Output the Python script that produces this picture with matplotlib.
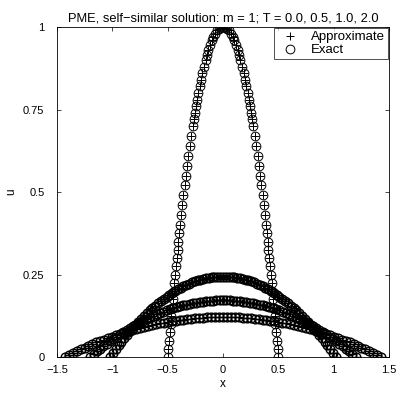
import matplotlib
matplotlib.use("Agg")
import matplotlib.pyplot as plt

plt.rcParams['font.family'] = ['Liberation Sans', 'DejaVu Sans']

# ------------------------------
# data (mesh nodes, approx and exact coincide)
# ------------------------------
# T = 0.0
x_t0 = [-0.5, -0.494, -0.487, -0.481, -0.474, -0.468, -0.461, -0.454, -0.447, -0.440,
        -0.433, -0.426, -0.418, -0.411, -0.403, -0.395, -0.387, -0.378, -0.367, -0.357,
        -0.346, -0.335, -0.324, -0.312, -0.300, -0.287, -0.274, -0.265, -0.255, -0.245,
        -0.235, -0.224, -0.212, -0.200, -0.187, -0.173, -0.158, -0.146, -0.132, -0.117,
        -0.100, -0.087, -0.071, -0.050, -0.035, -0.025, 0.0,
        0.025, 0.035, 0.050, 0.071, 0.087, 0.100, 0.117, 0.132, 0.146, 0.158,
        0.173, 0.187, 0.200, 0.212, 0.224, 0.235, 0.245, 0.255, 0.265, 0.274,
        0.287, 0.300, 0.312, 0.324, 0.335, 0.346, 0.357, 0.367, 0.378, 0.387,
        0.395, 0.403, 0.411, 0.418, 0.426, 0.433, 0.440, 0.447, 0.454, 0.461,
        0.468, 0.474, 0.481, 0.487, 0.494, 0.5]
u_t0 = [0.0, 0.025, 0.05, 0.075, 0.10, 0.125, 0.15, 0.175, 0.20, 0.225,
        0.25, 0.275, 0.30, 0.325, 0.35, 0.375, 0.40, 0.43, 0.46, 0.49,
        0.52, 0.55, 0.58, 0.61, 0.64, 0.67, 0.70, 0.72, 0.74, 0.76,
        0.78, 0.80, 0.82, 0.84, 0.86, 0.88, 0.90, 0.915, 0.93, 0.945,
        0.96, 0.97, 0.98, 0.99, 0.995, 0.9975, 1.0,
        0.9975, 0.995, 0.99, 0.98, 0.97, 0.96, 0.945, 0.93, 0.915, 0.90,
        0.88, 0.86, 0.84, 0.82, 0.80, 0.78, 0.76, 0.74, 0.72, 0.70,
        0.67, 0.64, 0.61, 0.58, 0.55, 0.52, 0.49, 0.46, 0.43, 0.40,
        0.375, 0.35, 0.325, 0.30, 0.275, 0.25, 0.225, 0.20, 0.175, 0.15,
        0.125, 0.10, 0.075, 0.05, 0.025, 0.0]

# T = 0.5
x_t05 = [-1.020, -0.995, -0.969, -0.944, -0.918, -0.893, -0.867, -0.842, -0.816, -0.791,
         -0.765, -0.740, -0.714, -0.689, -0.663, -0.638, -0.612, -0.587, -0.561, -0.536,
         -0.510, -0.485, -0.459, -0.434, -0.408, -0.383, -0.357, -0.332, -0.306, -0.281,
         -0.255, -0.230, -0.204, -0.179, -0.153, -0.128, -0.102, -0.077, -0.051, -0.026,
         0.0,
         0.026, 0.051, 0.077, 0.102, 0.128, 0.153, 0.179, 0.204, 0.230, 0.255,
         0.281, 0.306, 0.332, 0.357, 0.383, 0.408, 0.434, 0.459, 0.485, 0.510,
         0.536, 0.561, 0.587, 0.612, 0.638, 0.663, 0.689, 0.714, 0.740, 0.765,
         0.791, 0.816, 0.842, 0.867, 0.893, 0.918, 0.944, 0.969, 0.995, 1.020]
u_t05 = [0.0, 0.012, 0.024, 0.035, 0.046, 0.057, 0.068, 0.078, 0.088, 0.097,
         0.107, 0.116, 0.124, 0.133, 0.141, 0.149, 0.156, 0.163, 0.170, 0.177,
         0.183, 0.189, 0.195, 0.200, 0.205, 0.210, 0.214, 0.218, 0.222, 0.226,
         0.229, 0.232, 0.234, 0.237, 0.239, 0.240, 0.242, 0.243, 0.243, 0.244,
         0.244,
         0.244, 0.243, 0.243, 0.242, 0.240, 0.239, 0.237, 0.234, 0.232, 0.229,
         0.226, 0.222, 0.218, 0.214, 0.210, 0.205, 0.200, 0.195, 0.189, 0.183,
         0.177, 0.170, 0.163, 0.156, 0.149, 0.141, 0.133, 0.124, 0.116, 0.107,
         0.097, 0.088, 0.078, 0.068, 0.057, 0.046, 0.035, 0.024, 0.012, 0.0]

# T = 1.0
x_t1 = [-1.20, -1.17, -1.14, -1.11, -1.08, -1.05, -1.02, -0.99, -0.96, -0.93,
        -0.90, -0.87, -0.84, -0.81, -0.78, -0.75, -0.72, -0.69, -0.66, -0.63,
        -0.60, -0.57, -0.54, -0.51, -0.48, -0.45, -0.42, -0.39, -0.36, -0.33,
        -0.30, -0.27, -0.24, -0.21, -0.18, -0.15, -0.12, -0.09, -0.06, -0.03,
        0.0,
        0.03, 0.06, 0.09, 0.12, 0.15, 0.18, 0.21, 0.24, 0.27, 0.30,
        0.33, 0.36, 0.39, 0.42, 0.45, 0.48, 0.51, 0.54, 0.57, 0.60,
        0.63, 0.66, 0.69, 0.72, 0.75, 0.78, 0.81, 0.84, 0.87, 0.90,
        0.93, 0.96, 0.99, 1.02, 1.05, 1.08, 1.11, 1.14, 1.17, 1.20]
u_t1 = [0.0, 0.008, 0.017, 0.025, 0.033, 0.040, 0.048, 0.055, 0.062, 0.069,
        0.075, 0.082, 0.088, 0.094, 0.099, 0.105, 0.110, 0.115, 0.120, 0.125,
        0.129, 0.133, 0.137, 0.141, 0.144, 0.148, 0.151, 0.154, 0.157, 0.159,
        0.161, 0.163, 0.165, 0.167, 0.168, 0.169, 0.170, 0.171, 0.172, 0.172,
        0.172,
        0.172, 0.172, 0.171, 0.170, 0.169, 0.168, 0.167, 0.165, 0.163, 0.161,
        0.159, 0.157, 0.154, 0.151, 0.148, 0.144, 0.141, 0.137, 0.133, 0.129,
        0.125, 0.120, 0.115, 0.110, 0.105, 0.099, 0.094, 0.088, 0.082, 0.075,
        0.069, 0.062, 0.055, 0.048, 0.040, 0.033, 0.025, 0.017, 0.008, 0.0]

# T = 2.0
x_t2 = [-1.430, -1.394, -1.359, -1.323, -1.287, -1.251, -1.216, -1.180, -1.144, -1.108,
        -1.073, -1.037, -1.001, -0.965, -0.930, -0.894, -0.858, -0.822, -0.787, -0.751,
        -0.715, -0.679, -0.644, -0.608, -0.572, -0.536, -0.501, -0.465, -0.429, -0.393,
        -0.358, -0.322, -0.286, -0.250, -0.215, -0.179, -0.143, -0.107, -0.072, -0.036,
        0.0,
        0.036, 0.072, 0.107, 0.143, 0.179, 0.215, 0.250, 0.286, 0.322, 0.358,
        0.393, 0.429, 0.465, 0.501, 0.536, 0.572, 0.608, 0.644, 0.679, 0.715,
        0.751, 0.787, 0.822, 0.858, 0.894, 0.930, 0.965, 1.001, 1.037, 1.073,
        1.108, 1.144, 1.180, 1.216, 1.251, 1.287, 1.323, 1.359, 1.394, 1.430]
u_t2 = [0.0, 0.006, 0.012, 0.018, 0.023, 0.028, 0.034, 0.039, 0.044, 0.048,
        0.053, 0.057, 0.062, 0.066, 0.070, 0.074, 0.077, 0.081, 0.084, 0.088,
        0.091, 0.094, 0.097, 0.099, 0.102, 0.104, 0.106, 0.108, 0.110, 0.112,
        0.113, 0.115, 0.116, 0.117, 0.118, 0.119, 0.120, 0.120, 0.121, 0.121,
        0.121,
        0.121, 0.121, 0.120, 0.120, 0.119, 0.118, 0.117, 0.116, 0.115, 0.113,
        0.112, 0.110, 0.108, 0.106, 0.104, 0.102, 0.099, 0.097, 0.094, 0.091,
        0.088, 0.084, 0.081, 0.077, 0.074, 0.070, 0.066, 0.062, 0.057, 0.053,
        0.048, 0.044, 0.039, 0.034, 0.028, 0.023, 0.018, 0.012, 0.006, 0.0]

# (x, u, marker edge width) - the wide curves look denser/darker in the reference
curves = [(x_t0, u_t0, 0.7), (x_t05, u_t05, 1.0), (x_t1, u_t1, 1.0), (x_t2, u_t2, 1.0)]

xticks = [-1.5, -1, -0.5, 0, 0.5, 1, 1.5]
xticklabels = ["\u22121.5", "\u22121", "\u22120.5", "0", "0.5", "1", "1.5"]
yticks = [0, 0.25, 0.5, 0.75, 1]
yticklabels = ["0", "0.25", "0.5", "0.75", "1"]

# ------------------------------
# plot
# ------------------------------
fig = plt.figure(figsize=(4.0, 3.98), dpi=100)
ax = fig.add_axes([0.1425, 0.103, 0.83, 0.829])

for i, (xs, us, mew) in enumerate(curves):
    ax.plot(xs, us, linestyle="none", marker="+", color="k", markersize=6,
            markeredgewidth=mew, label="Approximate" if i == 0 else None)
    ax.plot(xs, us, linestyle="none", marker="o", color="k", markerfacecolor="none",
            markersize=6.3, markeredgewidth=mew, label="Exact" if i == 0 else None)

ax.set_xlim(-1.5, 1.5)
ax.set_ylim(0, 1)
ax.set_xticks(xticks)
ax.set_xticklabels(xticklabels)
ax.set_yticks(yticks)
ax.set_yticklabels(yticklabels)
ax.tick_params(direction="in", top=True, right=True, length=3, width=0.5,
               labelsize=8)
ax.tick_params(axis="x", pad=6)
ax.tick_params(axis="y", pad=9)
for s in ax.spines.values():
    s.set_linewidth(0.6)

ax.set_title("PME, self\u2212similar solution: m = 1; T = 0.0, 0.5, 1.0, 2.0",
             fontsize=9.3, pad=4)
ax.set_xlabel("x", fontsize=8.5, labelpad=2)
ax.set_ylabel("u", fontsize=8.5, labelpad=4)

leg = ax.legend(loc="upper right", bbox_to_anchor=(1.0, 1.0), borderaxespad=0.1,
                fontsize=9.5, frameon=True, fancybox=False, handlelength=2.0,
                handletextpad=0.6, borderpad=0.2, labelspacing=0.05)
leg.get_frame().set_edgecolor("k")
leg.get_frame().set_linewidth(0.6)
for h in leg.legend_handles:
    h.set_markeredgewidth(0.7)

fig.savefig("out.png", dpi=100)
